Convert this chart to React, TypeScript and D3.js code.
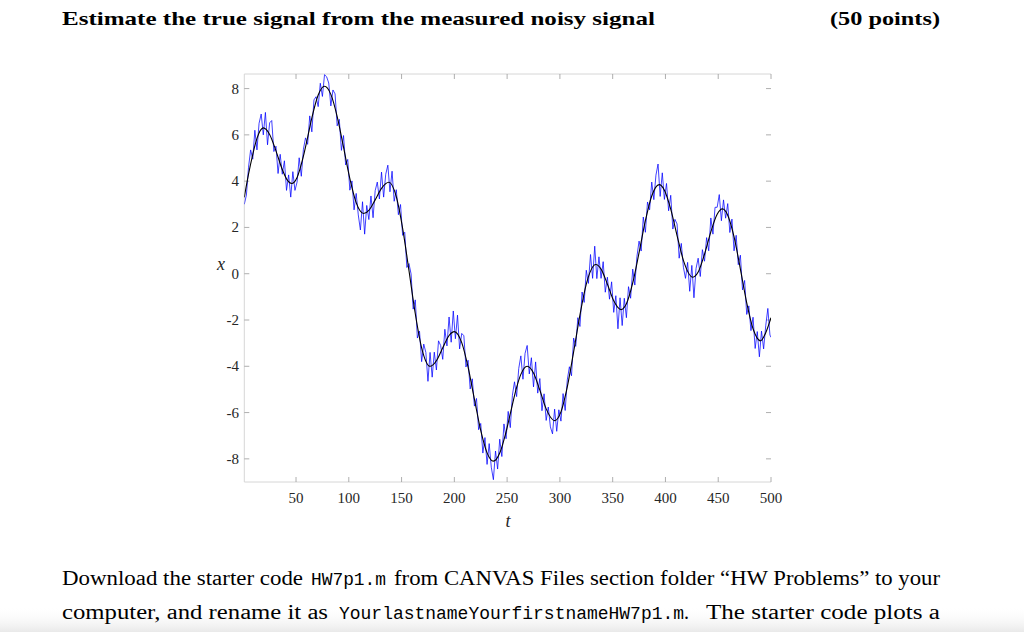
import React from "react";
import * as d3 from "d3";

// true (smooth) signal
const trueT = [1, 5, 9, 13, 19, 25, 31, 37, 41, 46, 51, 57, 61, 65, 71, 77, 83, 89, 95, 101, 107, 114, 119, 125, 131, 138, 145, 151, 157, 163, 169, 177, 183, 189, 195, 200, 207, 213, 219, 225, 231, 237, 243, 249, 253, 259, 263, 269, 275, 281, 287, 295, 301, 307, 313, 319, 325, 334, 339, 345, 351, 358, 363, 369, 375, 381, 387, 394, 399, 405, 411, 417, 426, 431, 437, 443, 449, 454, 459, 465, 471, 477, 483, 490, 495, 500];
const trueV = [3.3, 4.3, 5.15, 5.85, 6.3, 6.02, 5.31, 4.5, 4.1, 3.9, 4.16, 5.08, 5.89, 6.73, 7.72, 8.1, 7.75, 6.79, 5.47, 4.11, 3.07, 2.6, 2.74, 3.19, 3.69, 3.95, 3.33, 1.96, 0.14, -1.73, -3.2, -4.0, -3.76, -3.2, -2.67, -2.5, -2.98, -4.04, -5.42, -6.77, -7.74, -8.1, -7.75, -6.83, -6.05, -4.91, -4.35, -4.0, -4.29, -5.03, -5.84, -6.35, -5.97, -4.89, -3.38, -1.78, -0.45, 0.4, 0.2, -0.45, -1.17, -1.55, -1.3, -0.4, 0.91, 2.29, 3.36, 3.85, 3.61, 2.79, 1.65, 0.58, -0.15, 0.07, 0.84, 1.81, 2.57, 2.8, 2.53, 1.59, 0.2, -1.26, -2.38, -2.9, -2.55, -1.9];

// measured noisy signal, samples at t = 1, 3, 5, ..., 499 and 500
const noisyV = [
  3.0, 3.4, 4.6, 5.35, 4.95, 6.2, 5.35, 6.5, 6.9, 6.0,
  6.97, 5.57, 6.52, 6.62, 5.28, 5.51, 4.33, 5.16, 4.3, 4.88,
  3.6, 4.27, 3.31, 4.41, 3.6, 3.96, 5.01, 4.21, 5.38, 5.87,
  5.59, 6.82, 6.13, 7.51, 7.65, 7.22, 8.23, 7.66, 8.6, 8.51,
  8.24, 7.25, 7.94, 7.77, 6.39, 6.67, 5.33, 5.97, 4.7, 4.94,
  3.61, 4.01, 2.76, 3.47, 2.54, 1.89, 3.11, 1.71, 2.95, 2.34,
  3.36, 2.42, 3.59, 3.96, 3.23, 4.39, 3.31, 4.3, 4.69, 3.54,
  4.43, 3.13, 3.63, 2.55, 2.99, 1.66, 1.79, 0.27, 0.44, -0.01,
  -1.53, -1.13, -2.78, -2.48, -3.8, -3.04, -3.4, -4.65, -3.4, -4.47,
  -3.39, -4.16, -2.9, -3.1, -3.7, -2.4, -3.12, -1.87, -2.96, -1.61,
  -2.81, -1.79, -3.25, -2.58, -2.68, -4.03, -3.74, -4.98, -4.54, -5.72,
  -5.39, -6.74, -6.47, -7.75, -7.08, -8.24, -7.34, -8.36, -8.9, -7.66,
  -8.44, -7.15, -7.9, -6.49, -7.13, -5.95, -6.65, -5.25, -4.67, -5.31,
  -4.1, -3.55, -4.56, -3.44, -3.1, -4.33, -3.63, -4.89, -3.81, -5.16,
  -4.53, -5.92, -5.19, -6.34, -5.76, -6.62, -6.92, -5.85, -6.81, -5.88,
  -6.37, -5.18, -5.91, -4.59, -4.02, -4.41, -2.78, -3.14, -1.9, -2.28,
  -0.79, -1.24, 0.15, -0.42, 0.83, -0.2, 1.19, -0.21, 0.73, -0.2,
  0.52, -0.8, -0.15, -1.1, -0.35, -1.67, -0.95, -2.38, -1.04, -2.24,
  -1.06, -1.9, -0.56, -1.06, 0.2, -0.49, 0.75, 1.41, 0.98, 2.45,
  1.79, 3.1, 2.76, 3.96, 3.2, 4.26, 4.74, 3.34, 4.36, 3.21,
  3.9, 2.72, 3.39, 1.93, 2.35, 2.15, 0.67, 1.31, 0.28, -0.2,
  0.49, -0.76, 0.36, -1.04, 0.23, 0.67, -0.12, 1.04, 0.54, 1.56,
  0.99, 2.41, 1.71, 2.87, 2.87, 3.42, 2.29, 3.19, 2.4, 3.03,
  1.78, 2.36, 0.99, 1.66, 0.39, 0.8, -0.7, -0.29, -1.76, -1.39,
  -2.46, -1.88, -3.23, -2.5, -3.59, -2.48, -3.25, -2.25, -1.5, -2.65,
  -2.75,
];
const noisyT = d3.range(1, 500, 2).concat([500]);

const xTicks = [50, 100, 150, 200, 250, 300, 350, 400, 450, 500];
const yTicks = [8, 6, 4, 2, 0, -2, -4, -6, -8];

const SERIF = "'Liberation Serif', 'DejaVu Serif', serif";
const MONO = "'Liberation Mono', 'DejaVu Sans Mono', monospace";

export default function App() {
  const left = 244.3, right = 771, top = 74, bottom = 482;
  const x = d3.scaleLinear().domain([1, 500]).range([left, right]);
  const y = d3.scaleLinear().domain([-9.0, 8.63]).range([bottom, top]);

  const noisyLine = d3
    .line<number>()
    .x((_, i) => x(noisyT[i]))
    .y((d) => y(d));
  const trueLine = d3
    .line<number>()
    .x((_, i) => x(trueT[i]))
    .y((d) => y(d))
    .curve(d3.curveMonotoneX);

  const axisColor = "#d6d6d6";
  const tickColor = "#9a9a9a";
  const labelColor = "#262626";

  return (
    <svg
      width={1024}
      height={632}
      style={{ position: "absolute", left: 0, top: 0, background: "#fff" }}
    >
      <defs>
        <linearGradient id="shade" x1="0" y1="0" x2="0" y2="1">
          <stop offset="0" stopColor="#ffffff" stopOpacity={0} />
          <stop offset="1" stopColor="#e9e9e9" stopOpacity={1} />
        </linearGradient>
        <clipPath id="plotclip">
          <rect x={left} y={top} width={right - left} height={bottom - top} />
        </clipPath>
      </defs>
      <rect x={0} y={0} width={1024} height={632} fill="#fff" />
      <rect x={0} y={606} width={1024} height={26} fill="url(#shade)" />

      {/* heading */}
      <text x={62} y={25} fontFamily={SERIF} fontWeight="bold" fontSize={19.5}
        textLength={593} lengthAdjust="spacingAndGlyphs" fill="#000">
        Estimate the true signal from the measured noisy signal
      </text>
      <text x={830} y={25} fontFamily={SERIF} fontWeight="bold" fontSize={19.5}
        textLength={110} lengthAdjust="spacingAndGlyphs" fill="#000">
        (50 points)
      </text>

      {/* axes frame */}
      <line x1={left} y1={top} x2={right} y2={top} stroke={axisColor} strokeWidth={1} />
      <line x1={left} y1={bottom} x2={right} y2={bottom} stroke={axisColor} strokeWidth={1} />
      <line x1={left} y1={top} x2={left} y2={bottom} stroke={axisColor} strokeWidth={1} />

      {/* ticks */}
      {xTicks.map((t) => (
        <g key={"xt" + t}>
          <line x1={x(t)} x2={x(t)} y1={bottom} y2={bottom - 5} stroke={tickColor} strokeWidth={0.8} />
          <line x1={x(t)} x2={x(t)} y1={top} y2={top + 5} stroke={tickColor} strokeWidth={0.8} />
          <text x={x(t)} y={503} textAnchor="middle" fontFamily={SERIF} fontSize={15} fill={labelColor}>
            {t}
          </text>
        </g>
      ))}
      {yTicks.map((v) => (
        <g key={"yt" + v}>
          <line x1={left} x2={left + 5} y1={y(v)} y2={y(v)} stroke={tickColor} strokeWidth={0.8} />
          <line x1={right} x2={right - 5} y1={y(v)} y2={y(v)} stroke={tickColor} strokeWidth={0.8} />
          <text x={239} y={y(v) + 5} textAnchor="end" fontFamily={SERIF} fontSize={15} fill={labelColor}>
            {v}
          </text>
        </g>
      ))}

      {/* axis labels */}
      <text x={508} y={527} textAnchor="middle" fontFamily={SERIF} fontStyle="italic" fontSize={18} fill={labelColor}>
        t
      </text>
      <text x={221} y={270} textAnchor="middle" fontFamily={SERIF} fontStyle="italic" fontSize={18} fill={labelColor}>
        x
      </text>

      {/* data */}
      <g clipPath="url(#plotclip)">
        <path d={noisyLine(noisyV) || ""} fill="none" stroke="#0000ff" strokeWidth={0.75} strokeLinejoin="round" />
        <path d={trueLine(trueV) || ""} fill="none" stroke="#000" strokeWidth={1.1} />
      </g>

      {/* body text */}
      <text x={62} y={585} fontFamily={SERIF} fontSize={20} fill="#000" textLength={241} lengthAdjust="spacingAndGlyphs">
        Download the starter code
      </text>
      <text x={311} y={585} fontFamily={MONO} fontSize={18} fill="#000" textLength={75} lengthAdjust="spacingAndGlyphs">
        HW7p1.m
      </text>
      <text x={394} y={585} fontFamily={SERIF} fontSize={20} fill="#000" textLength={546} lengthAdjust="spacingAndGlyphs">
        from CANVAS Files section folder “HW Problems” to your
      </text>

      <text x={62} y={619} fontFamily={SERIF} fontSize={20} fill="#000" textLength={266} lengthAdjust="spacingAndGlyphs">
        computer, and rename it as
      </text>
      <text x={339} y={619} fontFamily={MONO} fontSize={18} fill="#000" textLength={345} lengthAdjust="spacingAndGlyphs">
        YourlastnameYourfirstnameHW7p1.m
      </text>
      <text x={684} y={619} fontFamily={SERIF} fontSize={20} fill="#000">.</text>
      <text x={706} y={619} fontFamily={SERIF} fontSize={20} fill="#000" textLength={234} lengthAdjust="spacingAndGlyphs">
        The starter code plots a
      </text>
    </svg>
  );
}
